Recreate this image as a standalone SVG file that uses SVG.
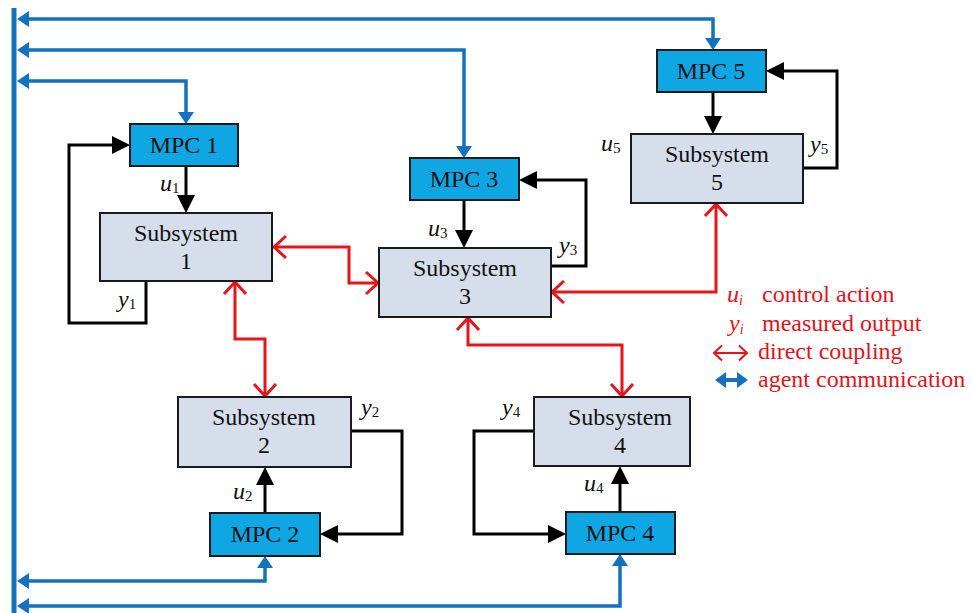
<svg xmlns="http://www.w3.org/2000/svg" width="975" height="613" viewBox="0 0 975 613" font-family="'Liberation Serif', 'Times New Roman', Tinos, 'Noto Serif', 'DejaVu Serif', serif">
  <style>
    .mpc { fill: #0EA7E4; stroke: #1A1A1A; stroke-width: 2; }
    .sub { fill: #D5DEEA; stroke: #1A1A1A; stroke-width: 2; }
    text { font-family: 'Liberation Serif', 'Times New Roman', Tinos, 'Noto Serif', 'DejaVu Serif', serif; }
    .lbl { font-size: 24px; fill: #111; text-anchor: middle; }
    .var { font-size: 24px; font-style: italic; fill: #111; }
    .var tspan.s { font-style: normal; font-size: 15px; }
    .leg { font-size: 24px; fill: #E3141C; }
    .leg tspan.s { font-size: 14px; }
    .blk { fill: none; stroke: #000; stroke-width: 3; marker-end: url(#arrBlack); }
    .blu { fill: none; stroke: #1371C0; stroke-width: 3.5; marker-start: url(#arrBlue); marker-end: url(#arrBlue); }
    .red { fill: none; stroke: #E8141C; stroke-width: 3; marker-start: url(#arrRed); marker-end: url(#arrRed); }
  </style>
  <defs>
    <marker id="arrBlack" viewBox="0 0 18 18" refX="9" refY="9" markerWidth="18" markerHeight="18" markerUnits="userSpaceOnUse" orient="auto-start-reverse">
      <path d="M0,0 L18,9 L0,18 z" fill="#000"/>
    </marker>
    <marker id="arrBlue" viewBox="0 0 12 16" refX="6" refY="8" markerWidth="12" markerHeight="16" markerUnits="userSpaceOnUse" orient="auto-start-reverse">
      <path d="M0,0 L12,8 L0,16 z" fill="#1371C0"/>
    </marker>
    <marker id="arrRed" viewBox="-2 -2 17 26" refX="12" refY="11" markerWidth="17" markerHeight="26" markerUnits="userSpaceOnUse" orient="auto-start-reverse" overflow="visible">
      <path d="M0,0 L12,11 L0,22" fill="none" stroke="#E8141C" stroke-width="3"/>
    </marker>
    <marker id="arrRedSmall" viewBox="-2 -2 12 19" refX="8" refY="7.5" markerWidth="12" markerHeight="19" markerUnits="userSpaceOnUse" orient="auto-start-reverse" overflow="visible">
      <path d="M0,0 L8,7.5 L0,15" fill="none" stroke="#E8141C" stroke-width="2"/>
    </marker>
    <marker id="arrBlueLeg" viewBox="0 0 11 16" refX="5" refY="8" markerWidth="11" markerHeight="16" markerUnits="userSpaceOnUse" orient="auto-start-reverse">
      <path d="M0,0 L11,8 L0,16 z" fill="#1371C0"/>
    </marker>
  </defs>

  <!-- communication bus -->
  <rect id="bus" x="11.5" y="8" width="5" height="605" fill="#1371C0"/>

  <!-- connectors -->
  <g id="connectors">
    <!-- agent communication links -->
    <path class="blu" d="M23,19 H713 V44"/>
    <path class="blu" d="M23,50 H464 V152"/>
    <path class="blu" d="M23,81 H186 V118"/>
    <path class="blu" d="M23,581 H265 V562"/>
    <path class="blu" d="M23,606 H620 V560"/>

    <!-- control actions and measured outputs -->
    <path class="blk" d="M186,166 V204"/>
    <path class="blk" d="M146,281 V323 H69 V145 H121"/>
    <path class="blk" d="M464,200 V239"/>
    <path class="blk" d="M551,266 H586 V180 H528"/>
    <path class="blk" d="M713,92 V125"/>
    <path class="blk" d="M803,168 H837 V71 H775"/>
    <path class="blk" d="M265,513 V476"/>
    <path class="blk" d="M351,431 H402 V534 H329"/>
    <path class="blk" d="M620,512 V475"/>
    <path class="blk" d="M534,431 H474 V534 H557"/>

    <!-- direct couplings -->
    <path class="red" d="M274,247 H349 V283 H378"/>
    <path class="red" d="M235,282 V339 H265 V396"/>
    <path class="red" d="M552,292 H716 V204"/>
    <path class="red" d="M468,318 V345 H622 V396"/>
  </g>

  <!-- controllers -->
  <g id="mpc1"><rect class="mpc" x="130" y="124" width="108" height="42"/><text class="lbl" x="184" y="153">MPC 1</text></g>
  <g id="mpc2"><rect class="mpc" x="210" y="513" width="110" height="43"/><text class="lbl" x="265" y="542">MPC 2</text></g>
  <g id="mpc3"><rect class="mpc" x="410" y="158" width="109" height="42"/><text class="lbl" x="464" y="187">MPC 3</text></g>
  <g id="mpc4"><rect class="mpc" x="566" y="512" width="109" height="42"/><text class="lbl" x="620" y="541">MPC 4</text></g>
  <g id="mpc5"><rect class="mpc" x="657" y="50" width="109" height="42"/><text class="lbl" x="711" y="79">MPC 5</text></g>

  <!-- subsystems -->
  <g id="sub1"><rect class="sub" x="100" y="213" width="172" height="68"/><text class="lbl" x="186" y="241">Subsystem</text><text class="lbl" x="186" y="269">1</text></g>
  <g id="sub2"><rect class="sub" x="178" y="397" width="173" height="70"/><text class="lbl" x="264" y="425">Subsystem</text><text class="lbl" x="264" y="453">2</text></g>
  <g id="sub3"><rect class="sub" x="379" y="248" width="172" height="69"/><text class="lbl" x="465" y="276">Subsystem</text><text class="lbl" x="465" y="304">3</text></g>
  <g id="sub4"><rect class="sub" x="534" y="397" width="156" height="69"/><text class="lbl" x="620" y="425">Subsystem</text><text class="lbl" x="620" y="453">4</text></g>
  <g id="sub5"><rect class="sub" x="631" y="134" width="172" height="69"/><text class="lbl" x="717" y="162">Subsystem</text><text class="lbl" x="717" y="190">5</text></g>

  <!-- signal labels -->
  <g id="signals">
    <text class="var" x="160" y="191">u<tspan class="s" dy="2">1</tspan></text>
    <text class="var" x="118" y="307">y<tspan class="s" dy="2">1</tspan></text>
    <text class="var" x="233" y="499">u<tspan class="s" dy="2">2</tspan></text>
    <text class="var" x="361" y="415">y<tspan class="s" dy="2">2</tspan></text>
    <text class="var" x="428" y="236">u<tspan class="s" dy="2">3</tspan></text>
    <text class="var" x="559" y="253">y<tspan class="s" dy="2">3</tspan></text>
    <text class="var" x="584" y="491">u<tspan class="s" dy="2">4</tspan></text>
    <text class="var" x="502" y="415">y<tspan class="s" dy="2">4</tspan></text>
    <text class="var" x="601" y="151">u<tspan class="s" dy="2">5</tspan></text>
    <text class="var" x="810" y="152">y<tspan class="s" dy="2">5</tspan></text>
  </g>

  <!-- legend -->
  <g id="legend">
    <text class="leg" x="727" y="302"><tspan font-style="italic">u</tspan><tspan class="s" font-style="italic" dy="3">i</tspan></text>
    <text class="leg" x="762" y="302">control action</text>
    <text class="leg" x="729" y="331"><tspan font-style="italic">y</tspan><tspan class="s" font-style="italic" dy="3">i</tspan></text>
    <text class="leg" x="762" y="331">measured output</text>
    <path d="M714,353 H747" fill="none" stroke="#E8141C" stroke-width="2" marker-start="url(#arrRedSmall)" marker-end="url(#arrRedSmall)"/>
    <text class="leg" x="758" y="359">direct coupling</text>
    <path d="M721,380 H742" fill="none" stroke="#1371C0" stroke-width="4" marker-start="url(#arrBlueLeg)" marker-end="url(#arrBlueLeg)"/>
    <text class="leg" x="758" y="387">agent communication</text>
  </g>
</svg>
